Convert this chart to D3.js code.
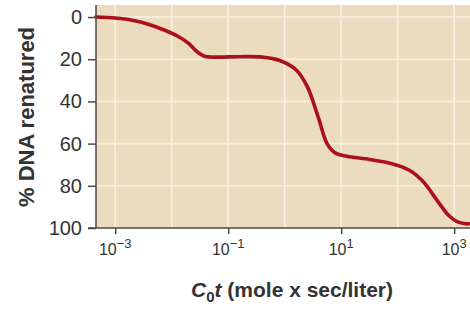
<!DOCTYPE html>
<html>
<head>
<meta charset="utf-8">
<script src="https://cdn.jsdelivr.net/npm/d3@7"></script>
<style>
  body { margin: 0; background: #fff; }
  text { font-family: "Liberation Sans", Arial, sans-serif; fill: #333; }
</style>
</head>
<body>
<script>
// log10 of C0t and % renatured
var logCot = [-3.34, -3.0, -2.7, -2.4, -2.1, -1.9, -1.7, -1.55, -1.42, -1.2, -0.8, -0.4, -0.1, 0.2, 0.4, 0.6, 0.75, 0.9, 1.1, 1.5, 1.9, 2.2, 2.45, 2.7, 2.9, 3.05, 3.2, 3.28];
var renatured = [0, 0.5, 1.5, 3.5, 6.5, 9, 12.5, 16.5, 18.6, 19, 18.8, 19, 20.5, 25, 33, 48, 60, 64.5, 66, 67.5, 69.5, 72.5, 78, 87, 94, 97, 98, 98];

var xTicks = [-3, -1, 1, 3];
var xGrid = [-3, -2, -1, 0, 1, 2, 3];
var yTicks = [0, 20, 40, 60, 80, 100];

var w = 470;
var h = 309;
var plotLeft = 96, plotRight = 470, plotTop = 5, plotBottom = 228;

var x = d3.scaleLog()
	.domain([Math.pow(10, -3.34), Math.pow(10, 3.28)])
	.range([plotLeft, plotRight]);

var y = d3.scaleLinear()
	.domain([-5.7, 100])
	.range([plotTop, plotBottom]);

var svg = d3.select("body")
	.append("svg")
	.attr("width", w)
	.attr("height", h);

// plot background
svg.append("rect")
	.attr("x", plotLeft)
	.attr("y", plotTop)
	.attr("width", plotRight - plotLeft)
	.attr("height", plotBottom - plotTop)
	.attr("fill", "#ecdcbf");

// grid
svg.selectAll("line.vgrid")
	.data(xGrid)
	.enter()
	.append("line")
	.attr("class", "vgrid")
	.attr("x1", function(d) { return x(Math.pow(10, d)); })
	.attr("x2", function(d) { return x(Math.pow(10, d)); })
	.attr("y1", plotTop)
	.attr("y2", plotBottom)
	.attr("stroke", "#f8f0e2")
	.attr("stroke-width", 1.6);

svg.selectAll("line.hgrid")
	.data(yTicks.slice(0, 5))
	.enter()
	.append("line")
	.attr("class", "hgrid")
	.attr("x1", plotLeft)
	.attr("x2", plotRight)
	.attr("y1", function(d) { return y(d); })
	.attr("y2", function(d) { return y(d); })
	.attr("stroke", "#f8f0e2")
	.attr("stroke-width", 1.6);

// curve
var line = d3.line()
	.x(function(d, i) { return x(Math.pow(10, logCot[i])); })
	.y(function(d) { return y(d); })
	.curve(d3.curveCatmullRom.alpha(0.5));

svg.append("path")
	.datum(renatured)
	.attr("d", line)
	.attr("fill", "none")
	.attr("stroke", "#ab101b")
	.attr("stroke-width", 3.6)
	.attr("stroke-linecap", "round");

// axes
var yAxis = d3.axisLeft(y)
	.tickValues(yTicks)
	.tickSize(8)
	.tickPadding(6);

var gy = svg.append("g")
	.attr("transform", "translate(" + plotLeft + ",0)")
	.call(yAxis);
gy.select(".domain").attr("d", "M0," + plotTop + "V" + plotBottom);

var xAxis = d3.axisBottom(x)
	.tickValues(xTicks.map(function(d) { return Math.pow(10, d); }))
	.tickSize(6)
	.tickFormat("");

var gx = svg.append("g")
	.attr("transform", "translate(0," + plotBottom + ")")
	.call(xAxis);
gx.select(".domain").attr("d", "M" + (plotLeft - 8) + ",0H" + plotRight);

svg.selectAll(".domain, .tick line")
	.attr("stroke", "#4a4a4a")
	.attr("stroke-width", 1.5);

gy.selectAll(".tick text")
	.attr("font-size", 20)
	.attr("fill", "#333")
	.style("font-family", "'Liberation Sans', Arial, sans-serif");

// x tick labels with superscripts
var xl = svg.selectAll("text.xlab")
	.data(xTicks)
	.enter()
	.append("text")
	.attr("class", "xlab")
	.attr("x", function(d) { return x(Math.pow(10, d)); })
	.attr("y", 255)
	.attr("text-anchor", "middle")
	.attr("font-size", 16);
xl.append("tspan").text("10");
xl.append("tspan")
	.attr("dy", -7)
	.attr("font-size", 13)
	.text(function(d) { return d < 0 ? "\u2212" + Math.abs(d) : d; });

// axis titles
svg.append("text")
	.attr("transform", "translate(34,117) rotate(-90)")
	.attr("text-anchor", "middle")
	.attr("font-size", 22)
	.attr("font-weight", "bold")
	.text("% DNA renatured");

var xt = svg.append("text")
	.attr("x", 292)
	.attr("y", 297)
	.attr("text-anchor", "middle")
	.attr("font-size", 21)
	.attr("font-weight", "bold");
xt.append("tspan").attr("font-style", "italic").text("C");
xt.append("tspan").attr("dy", 5).attr("font-size", 15).text("0");
xt.append("tspan").attr("dy", -5).attr("font-style", "italic").text("t");
xt.append("tspan").text(" (mole x sec/liter)");
</script>
</body>
</html>
